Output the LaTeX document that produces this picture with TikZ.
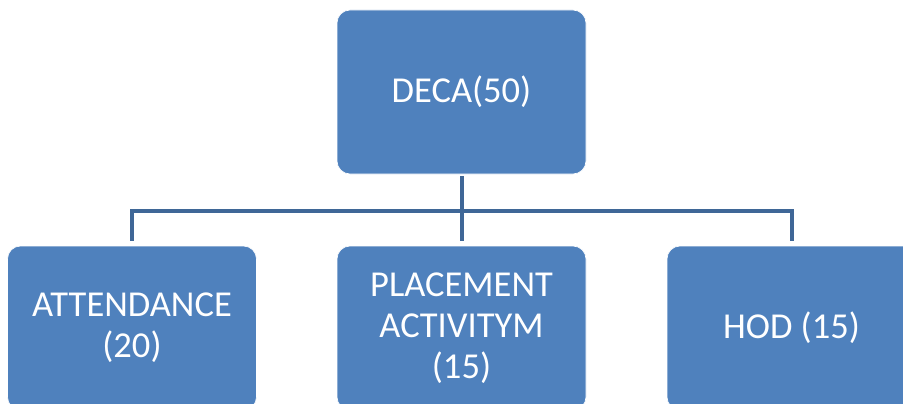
\documentclass[tikz,border=0pt]{standalone}
\usepackage{fontspec}
\setmainfont{Carlito}
\definecolor{boxblue}{HTML}{4F81BD}
\definecolor{linkblue}{HTML}{3F6797}
\begin{document}
\begin{tikzpicture}[x=1pt,y=-1pt,
  orgbox/.style={rectangle, rounded corners=13pt, fill=boxblue, draw=white, line width=0.6pt,
    minimum width=249pt, minimum height=164pt, inner sep=0pt, text=white, align=center,
    font=\fontsize{36.5}{41}\selectfont},
  link/.style={draw=linkblue, line width=4pt}]
\useasboundingbox (0,0) rectangle (903,404);
\clip (0,0) rectangle (903,404);
\fill[white] (0,0) rectangle (903,404);
\node[orgbox] (deca) at (461.5,92) {DECA(50)};
\node[orgbox] (att) at (132,328) {ATTENDANCE\\(20)};
\node[orgbox] (plc) at (461.5,328) {PLACEMENT\\ACTIVITYM\\(15)};
\node[orgbox] (hod) at (791.5,328) {HOD (15)};
\coordinate (bus) at (461.5,211);
\draw[link, shorten <=2pt] (deca.south) -- (bus);
\draw[link, shorten >=5pt] (bus) -| (att.north);
\draw[link, shorten >=5pt] (bus) -| (hod.north);
\draw[link, shorten >=5pt] (bus) -- (plc.north);
\end{tikzpicture}
\end{document}
